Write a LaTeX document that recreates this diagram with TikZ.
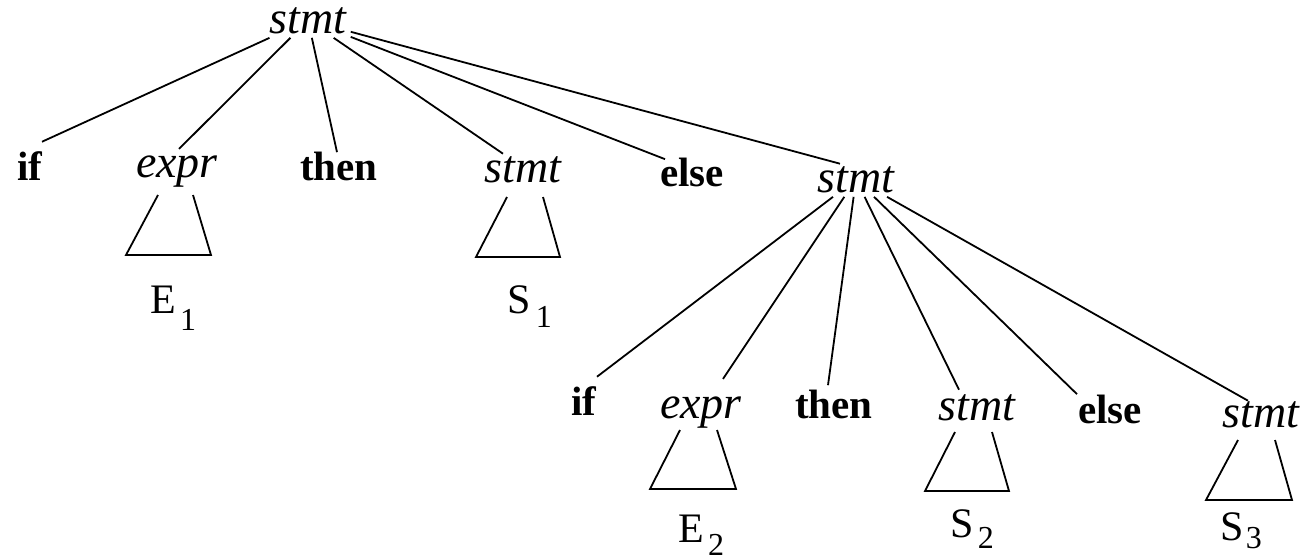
\documentclass[tikz,border=0pt]{standalone}
\usepackage{fontspec}
\setmainfont{Liberation Serif}
\newcommand{\leafsub}[3]{\hspace{#1}\raisebox{-#2}{\fontsize{16}{18}\selectfont #3}}
\tikzset{
  kw/.style={font=\fontsize{20.5}{24}\selectfont\bfseries, anchor=base, inner sep=2pt},
  nt/.style={font=\fontsize{23}{27}\selectfont\itshape, anchor=base, inner sep=2pt},
  leaf/.style={font=\fontsize{21}{25}\selectfont, anchor=base west, inner sep=0pt},
  edge/.style={line width=0.9pt},
  tri/.style={line width=0.9pt, line join=miter},
}
\begin{document}
\begin{tikzpicture}[x=0.5pt,y=-0.5pt]
\fill[white] (0,0) rectangle (1312,559);
\useasboundingbox (0,0) rectangle (1312,559);
% level 0
\node[nt] (s0) at (308,33) {stmt};
% level 1
\node[kw] (if1) at (30,180) {if};
\node[nt] (e1) at (177,177) {expr};
\node[kw] (th1) at (339,180) {then};
\node[nt] (s1) at (523,182) {stmt};
\node[kw] (el1) at (692,186) {else};
\node[nt] (s2) at (856,192) {stmt};
% level 2
\node[kw] (if2) at (584,415) {if};
\node[nt] (e2) at (701,418) {expr};
\node[kw] (th2) at (834,418) {then};
\node[nt] (s3) at (977,420) {stmt};
\node[kw] (el2) at (1110,423) {else};
\node[nt] (s4) at (1261,427) {stmt};
% edges
\draw[edge] (s0) -- ([xshift=6pt,yshift=2.5pt]if1.north);
\draw[edge] (s0) -- ([xshift=1pt,yshift=1pt]e1.north);
\draw[edge] (s0) -- ([xshift=-1pt,yshift=-2.5pt]th1.north);
\draw[edge] (s0) -- ([xshift=-10pt,yshift=-1pt]s1.north);
\draw[edge] (s0) -- ([xshift=-13.5pt,yshift=-3pt]el1.north);
\draw[edge] (s0) -- ([xshift=-8pt,yshift=-1pt]s2.north);
\draw[edge] (s2) -- ([xshift=6.5pt,yshift=2.5pt]if2.north);
\draw[edge] (s2) -- ([xshift=11pt,yshift=6.5pt]e2.north);
\draw[edge] (s2) -- ([xshift=-3pt]th2.north);
\draw[edge] (s2) -- ([xshift=-9pt]s3.north);
\draw[edge] (s2) -- ([xshift=-16.5pt,yshift=-2pt]el2.north);
\draw[edge] (s2) -- ([xshift=-6.5pt,yshift=-2pt]s4.north);
% subtrees
\draw[tri] (158,195) -- (126,255) -- (211,255) -- (193,195);
\draw[tri] (507,197) -- (476,257) -- (560,257) -- (543,197);
\draw[tri] (680,430) -- (650,489) -- (736,489) -- (717,430);
\draw[tri] (955,432) -- (925,491) -- (1009,491) -- (992,432);
\draw[tri] (1238,440) -- (1206,500) -- (1292,500) -- (1275,440);
% leaves
\node[leaf] (E1) at (150,313) {E\leafsub{2pt}{8.5pt}{1}};
\node[leaf] (S1) at (507,313) {S\leafsub{2.5pt}{7pt}{1}};
\node[leaf] (E2) at (678,542) {E\leafsub{2pt}{6.5pt}{2}};
\node[leaf] (S2) at (950,537) {S\leafsub{2pt}{5.5pt}{2}};
\node[leaf] (S3) at (1220,540) {S\leafsub{1pt}{4pt}{3}};
\end{tikzpicture}
\end{document}
